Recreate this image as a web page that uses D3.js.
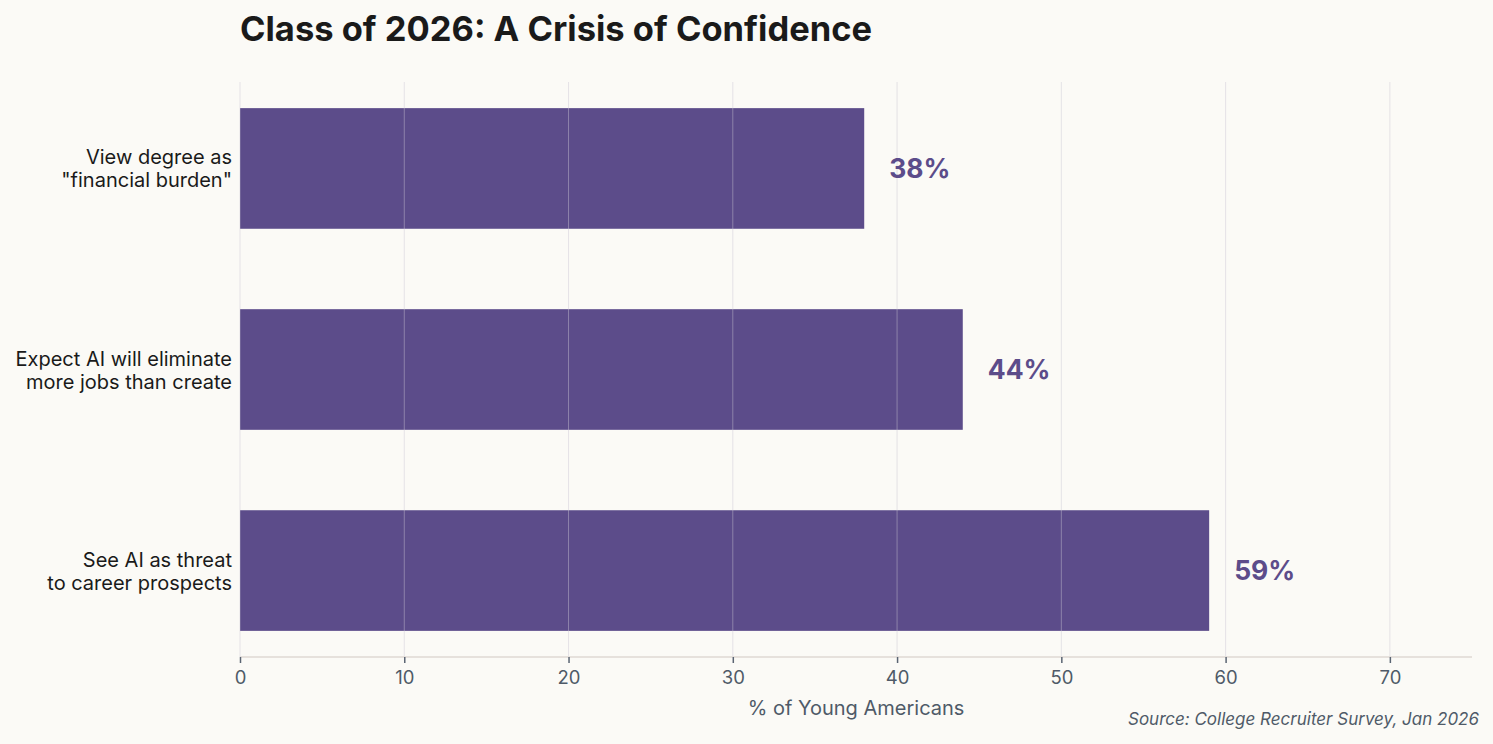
<!DOCTYPE html>
<html><head><meta charset="utf-8">
<script src="https://cdn.jsdelivr.net/npm/d3@7"></script>
<style>
html,body{margin:0;padding:0;background:#fbfaf6;}
svg{display:block;font-family:Inter,"Noto Sans",sans-serif;}
</style></head>
<body>
<svg id="chart" width="1493" height="744"></svg>
<script>
const categories = [
  ["View degree as", "\"financial burden\""],
  ["Expect AI will eliminate", "more jobs than create"],
  ["See AI as threat", "to career prospects"]
];
const values = [38, 44, 59];
const xTicks = [0, 10, 20, 30, 40, 50, 60, 70];
const titleText = "Class of 2026: A Crisis of Confidence";
const axisTitle = "% of Young Americans";
const sourceText = "Source: College Recruiter Survey, Jan 2026";

const svg = d3.select("#chart");
const W = 1493, H = 744;
svg.append("rect").attr("width", W).attr("height", H).attr("fill", "#fbfaf6");

const x = d3.scaleLinear().domain([0, 75]).range([240, 1472]);
const y = d3.scaleBand().domain(d3.range(categories.length)).range([82, 657])
  .paddingInner(0.4).paddingOuter(0.13);

// bars
svg.append("g").selectAll("rect").data(values).join("rect")
  .attr("x", x(0)).attr("y", (d, i) => y(i))
  .attr("width", d => x(d) - x(0)).attr("height", y.bandwidth())
  .attr("fill", "#5c4c8a");

// gridlines (over bars, semi-transparent)
svg.append("g").selectAll("line").data(xTicks).join("line")
  .attr("x1", d => x(d)).attr("x2", d => x(d))
  .attr("y1", 82).attr("y2", 657)
  .attr("stroke", "#c9c6d2").attr("stroke-opacity", 0.45).attr("stroke-width", 1);

// x axis
const axis = svg.append("g").attr("transform", "translate(0,657)")
  .call(d3.axisBottom(x).tickValues(xTicks).tickSize(6).tickPadding(8).tickSizeOuter(0));
axis.select(".domain").attr("stroke", "#e6e1dc").attr("stroke-width", 2).attr("d", `M${x(0)},0H${x(75)}`);
axis.selectAll(".tick line").attr("stroke", "#5a6472").attr("stroke-width", 1.5);
axis.selectAll(".tick text").attr("fill", "#4f5a68").attr("font-size", 18.5)
  .attr("font-family", "Inter, sans-serif");

// axis title
svg.append("text").attr("x", (x(0) + x(75)) / 2).attr("y", 715)
  .attr("text-anchor", "middle").attr("fill", "#4f5a68").attr("font-size", 20)
  .text(axisTitle);

// source
svg.append("text").attr("x", 1479).attr("y", 725)
  .attr("text-anchor", "end").attr("fill", "#4f5a68").attr("font-size", 17)
  .attr("font-style", "italic").text(sourceText);

// category labels
const lab = svg.append("g").selectAll("text").data(categories).join("text")
  .attr("text-anchor", "end").attr("fill", "#1a1a1a").attr("font-size", 20)
  .attr("x", 232)
  .attr("y", (d, i) => y(i) + y.bandwidth() / 2);
lab.selectAll("tspan").data(d => d).join("tspan")
  .attr("x", 232)
  .attr("dy", (d, j) => j === 0 ? "-0.2em" : "1.15em")
  .text(d => d);

// value labels
svg.append("g").selectAll("text").data(values).join("text")
  .attr("x", d => x(d) + 25)
  .attr("y", (d, i) => y(i) + y.bandwidth() / 2)
  .attr("dy", "0.36em")
  .attr("fill", "#5c4c8a").attr("font-size", 26.5).attr("font-weight", 700)
  .text(d => d + "%");

// title
svg.append("text").attr("x", 240).attr("y", 41)
  .attr("fill", "#1a1a1a").attr("font-size", 34.5).attr("font-weight", 700)
  .text(titleText);
</script>
</body></html>
